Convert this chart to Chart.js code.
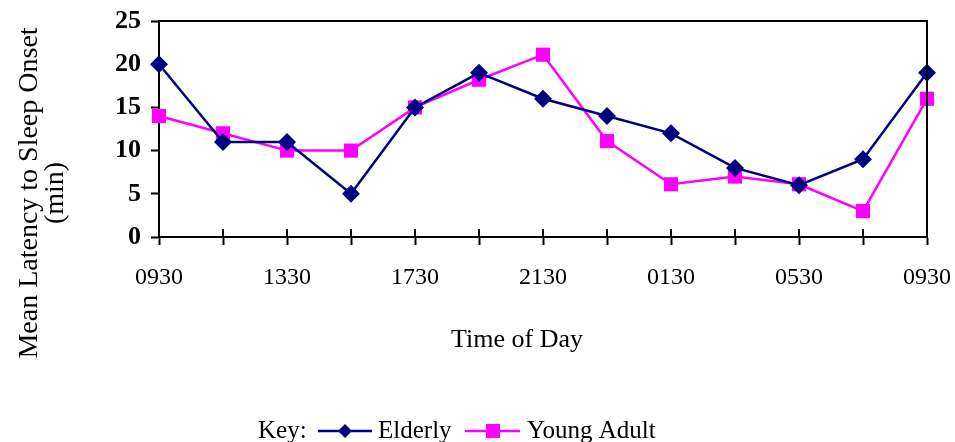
<!DOCTYPE html>
<html>
<head>
<meta charset="utf-8">
<script src="https://cdn.jsdelivr.net/npm/chart.js@4.4.1/dist/chart.umd.min.js"></script>
<style>
  html, body { margin: 0; padding: 0; background: #fff; }
  #wrap { width: 955px; height: 442px; }
</style>
</head>
<body>
<div id="wrap"><canvas id="chart" width="955" height="442"></canvas></div>
<script>
// ==================================
// Data
// ==================================
const times = ["0930", "1130", "1330", "1530", "1730", "1930", "2130", "2330", "0130", "0330", "0530", "0730", "0930"];
const elderly = [20, 11, 11, 5, 15, 19, 16, 14, 12, 8, 6, 9, 19];
const youngAdult = [14, 12, 10, 10, 15, 18.2, 21.1, 11.1, 6.1, 7, 6.1, 3, 16];
const yTicks = [0, 5, 10, 15, 20, 25];

const SERIF = '"Liberation Serif", "Times New Roman", serif';
const NAVY = "#000080";
const MAGENTA = "#FF00FF";

// ==================================
// Frame, crossing ticks, titles, key
// ==================================
const decor = {
  id: "decor",
  afterDraw(chart) {
    const { ctx, chartArea, scales } = chart;
    const x = scales.x;
    ctx.save();
    ctx.strokeStyle = "#000";
    ctx.lineWidth = 2;

    // top + right frame
    ctx.beginPath();
    ctx.moveTo(chartArea.left, chartArea.top);
    ctx.lineTo(chartArea.right, chartArea.top);
    ctx.lineTo(chartArea.right, chartArea.bottom);
    ctx.stroke();

    // tick marks poke up into the plot
    ctx.beginPath();
    x.ticks.forEach((t, i) => {
      const px = x.getPixelForTick(i);
      ctx.moveTo(px, chartArea.bottom);
      ctx.lineTo(px, chartArea.bottom - 8);
    });
    ctx.stroke();

    // axis titles
    ctx.fillStyle = "#000";
    ctx.font = "26px " + SERIF;
    ctx.textAlign = "center";
    ctx.textBaseline = "middle";
    ctx.fillText("Time of Day", 517, 340);

    ctx.save();
    ctx.translate(30, 193);
    ctx.rotate(-Math.PI / 2);
    ctx.font = "28px " + SERIF;
    ctx.fillText("Mean Latency to Sleep Onset", 0, 0);
    ctx.fillText("(min)", 0, 26);
    ctx.restore();

    // key
    const ly = 431;
    ctx.font = "25px " + SERIF;
    ctx.textAlign = "left";
    ctx.fillText("Key:", 258, ly);
    ctx.fillText("Elderly", 378, ly);
    ctx.fillText("Young Adult", 527, ly);

    ctx.lineWidth = 2.5;
    ctx.strokeStyle = NAVY;
    ctx.beginPath();
    ctx.moveTo(318, ly);
    ctx.lineTo(372, ly);
    ctx.stroke();
    ctx.fillStyle = NAVY;
    ctx.beginPath();
    ctx.moveTo(345, ly - 7);
    ctx.lineTo(352, ly);
    ctx.lineTo(345, ly + 7);
    ctx.lineTo(338, ly);
    ctx.closePath();
    ctx.fill();

    ctx.strokeStyle = MAGENTA;
    ctx.beginPath();
    ctx.moveTo(465, ly);
    ctx.lineTo(520, ly);
    ctx.stroke();
    ctx.fillStyle = MAGENTA;
    ctx.fillRect(486, ly - 7, 14, 14);

    ctx.restore();
  },
};

new Chart(document.getElementById("chart"), {
  type: "line",
  data: {
    labels: times,
    datasets: [
      {
        label: "Elderly",
        data: elderly,
        borderColor: NAVY,
        backgroundColor: NAVY,
        borderWidth: 2.5,
        pointStyle: "rectRot",
        pointRadius: 9,
        pointBorderWidth: 0,
        tension: 0,
      },
      {
        label: "Young Adult",
        data: youngAdult,
        borderColor: MAGENTA,
        backgroundColor: MAGENTA,
        borderWidth: 2.5,
        pointStyle: "rect",
        pointRadius: 10,
        pointBorderWidth: 0,
        tension: 0,
      },
    ],
  },
  options: {
    responsive: false,
    animation: false,
    layout: { padding: { left: 0, right: 28, top: 21, bottom: 0 } },
    plugins: {
      legend: { display: false },
      tooltip: { enabled: false },
    },
    scales: {
      x: {
        offset: false,
        grid: {
          drawOnChartArea: false,
          drawTicks: true,
          tickLength: 8,
          tickWidth: 2,
          color: "#000",
        },
        border: { color: "#000", width: 2 },
        ticks: {
          autoSkip: false,
          maxRotation: 0,
          padding: 18,
          color: "#000",
          font: { family: SERIF, size: 24 },
          callback: (v, i) => (i % 2 === 0 ? times[i] : ""),
        },
        afterFit: (s) => {
          s.height = 205;
          s.paddingLeft = 0;
          s.paddingRight = 0;
        },
      },
      y: {
        min: 0,
        max: 25,
        afterBuildTicks: (s) => { s.ticks = yTicks.map((v) => ({ value: v })); },
        grid: {
          drawOnChartArea: false,
          drawTicks: true,
          tickLength: 8,
          tickWidth: 2,
          color: "#000",
        },
        border: { color: "#000", width: 2 },
        ticks: {
          padding: 10,
          color: "#000",
          font: { family: SERIF, size: 26, weight: "bold" },
        },
        afterFit: (s) => {
          s.width = 159;
          s.paddingTop = 0;
          s.paddingBottom = 0;
        },
      },
    },
  },
  plugins: [decor],
});
</script>
</body>
</html>
